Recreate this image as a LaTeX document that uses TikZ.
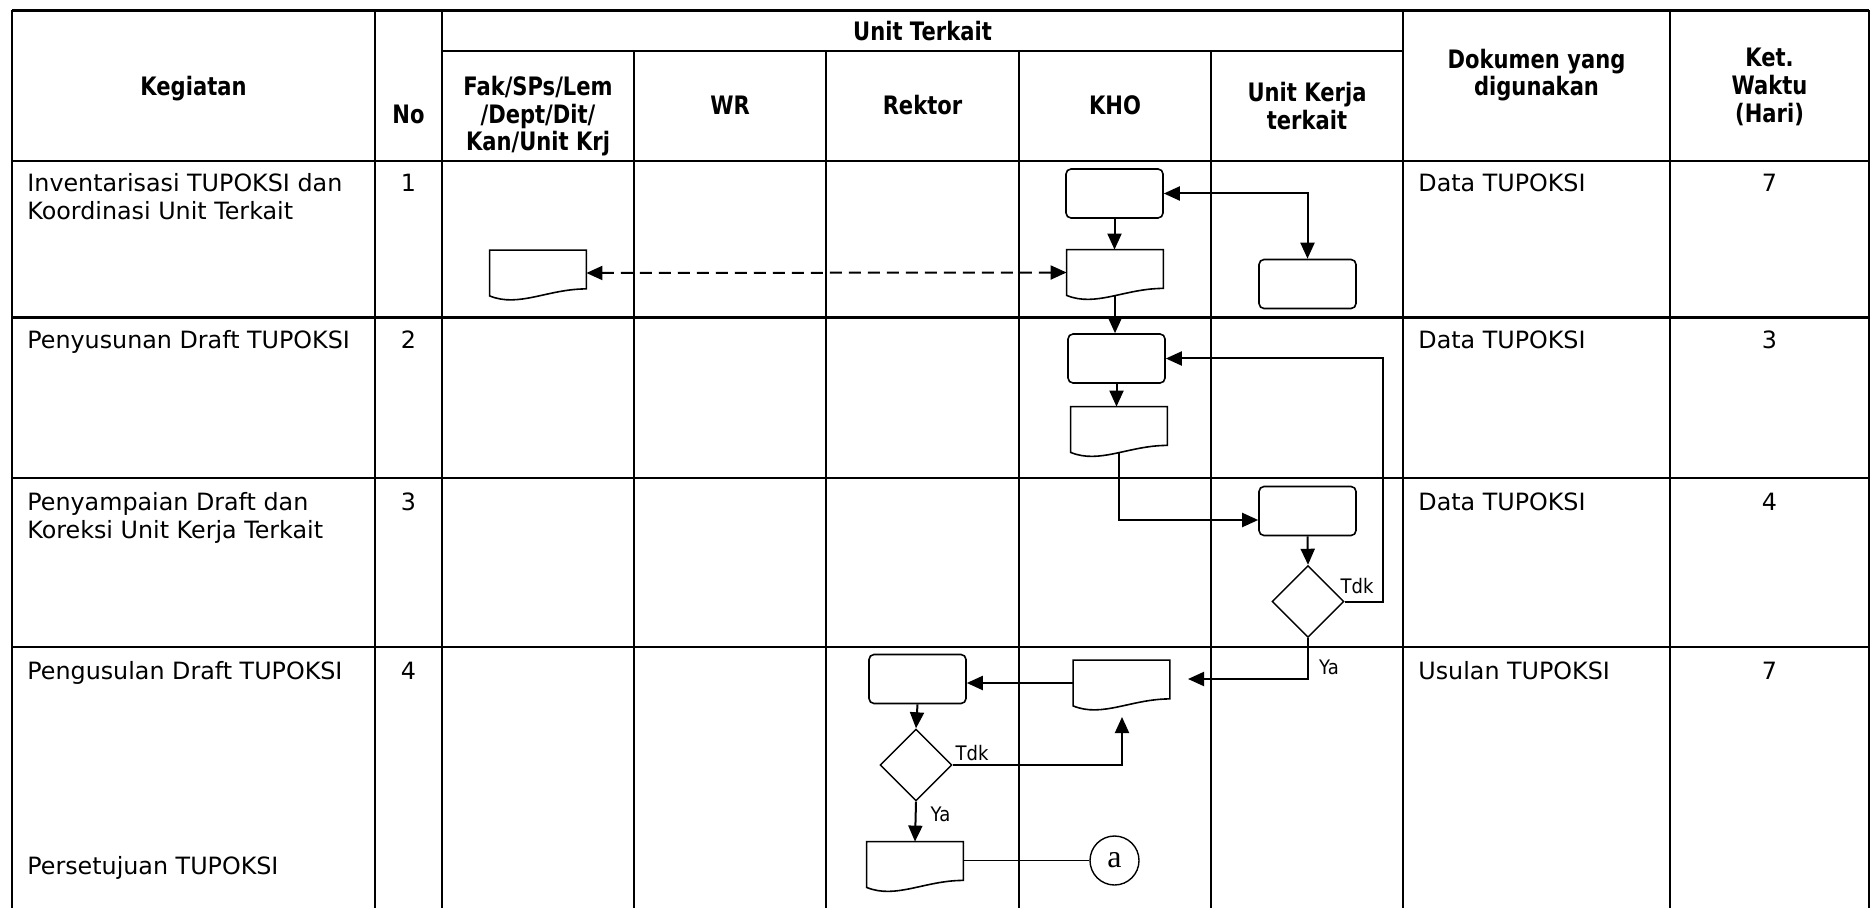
\documentclass[tikz,border=0pt]{standalone}
\usepackage{fontspec}
\setmainfont{DejaVu Sans}
\newfontfamily\serifa{Liberation Serif}
\usepackage{graphicx}
\usetikzlibrary{arrows.meta,shapes.geometric,calc}

\newcommand{\hs}[1]{\scalebox{0.83}[1]{#1}}
\newcommand{\ls}[1]{\scalebox{0.9}[1]{#1}}
\newcommand{\docoutline}[1]{%
  \draw[shp] ($(#1.south east)+(0,-7)$) -- (#1.north east) -- (#1.north west) -- (#1.south west)
    .. controls ($(#1.south west)!0.3!(#1.south east)+(0,12)$) and ($(#1.south west)!0.6!(#1.south east)+(0,-7)$) .. ($(#1.south east)+(0,-7)$) -- cycle;}

\tikzset{
  tabline/.style={line width=1.2pt},
  bodytext/.style={anchor=base west, inner sep=0pt, font=\fontsize{11.9}{14}\selectfont},
  numtext/.style={anchor=base, inner sep=0pt, font=\fontsize{11.9}{14}\selectfont},
  hdtext/.style={anchor=base, inner sep=0pt, font=\bfseries\fontsize{12.7}{15}\selectfont},
  proc/.style={draw, line width=0.8pt, rounded corners=2.5pt, minimum width=48.5pt, minimum height=24.5pt, inner sep=0pt},
  docnode/.style={draw=none, minimum width=48pt, minimum height=22.5pt, inner sep=0pt},
  decision/.style={draw, diamond, line width=0.7pt, minimum width=36pt, minimum height=36pt, inner sep=0pt},
  shp/.style={line width=0.8pt},
  conn/.style={line width=1pt, ->},
  thinline/.style={line width=0.6pt},
  lbl/.style={inner sep=0pt, font=\fontsize{10}{12}\selectfont},
}

\begin{document}
\begin{tikzpicture}[x=0.5pt,y=-0.5pt, >={Triangle[length=8pt,width=7pt]}]
\useasboundingbox (0,0) rectangle (1871,908);

% ---------- table grid ----------
\draw[tabline] (12,10.5) -- (1869,10.5);
\draw[tabline] (442,51) -- (1403,51);
\draw[tabline] (12,161) -- (1869,161);
\draw[tabline] (12,317.5) -- (1869,317.5);
\draw[tabline] (12,478) -- (1869,478);
\draw[tabline] (12,647) -- (1869,647);
\foreach \x in {12,375,442,1403,1670,1869} \draw[tabline] (\x,10.5) -- (\x,910);
\foreach \x in {634,826,1019,1211} \draw[tabline] (\x,51) -- (\x,910);

% ---------- header ----------
\node[hdtext] (hUT) at (922.5,41) {\hs{Unit Terkait}};
\node[hdtext] (hKeg) at (193.5,96) {\hs{Kegiatan}};
\node[hdtext] (hNo) at (408.5,124) {\hs{No}};
\node[hdtext] (hFa) at (538,96) {\hs{Fak/SPs/Lem}};
\node[hdtext] (hFb) at (538,124) {\hs{/Dept/Dit/}};
\node[hdtext] (hFc) at (538,151) {\hs{Kan/Unit Krj}};
\node[hdtext] (hWR) at (730,115) {\hs{WR}};
\node[hdtext] (hRek) at (922.5,115) {\hs{Rektor}};
\node[hdtext] (hKHO) at (1115,115) {\hs{KHO}};
\node[hdtext] (hUKa) at (1307,102) {\hs{Unit Kerja}};
\node[hdtext] (hUKb) at (1307,130) {\hs{terkait}};
\node[hdtext] (hDa) at (1536.5,69) {\hs{Dokumen yang}};
\node[hdtext] (hDb) at (1536.5,96) {\hs{digunakan}};
\node[hdtext] (hKa) at (1769.5,67) {\hs{Ket.}};
\node[hdtext] (hKb) at (1769.5,95) {\hs{Waktu}};
\node[hdtext] (hKc) at (1769.5,123) {\hs{(Hari)}};

% ---------- body texts ----------
\node[bodytext] (k1a) at (27,192) {Inventarisasi TUPOKSI dan};
\node[bodytext] (k1b) at (27,220) {Koordinasi Unit Terkait};
\node[bodytext] (k2) at (27,349) {Penyusunan Draft TUPOKSI};
\node[bodytext] (k3a) at (27,510) {Penyampaian Draft dan};
\node[bodytext] (k3b) at (27,538) {Koreksi Unit Kerja Terkait};
\node[bodytext] (k4) at (27,679) {Pengusulan Draft TUPOKSI};
\node[bodytext] (k5) at (27,874) {Persetujuan TUPOKSI};

\node[numtext] (n1) at (408.5,192) {1};
\node[numtext] (n2) at (408.5,349) {2};
\node[numtext] (n3) at (408.5,510) {3};
\node[numtext] (n4) at (408.5,679) {4};

\node[bodytext] (d1) at (1418,192) {Data TUPOKSI};
\node[bodytext] (d2) at (1418,349) {Data TUPOKSI};
\node[bodytext] (d3) at (1418,510) {Data TUPOKSI};
\node[bodytext] (d4) at (1418,679) {Usulan TUPOKSI};

\node[numtext] (w1) at (1769.5,192) {7};
\node[numtext] (w2) at (1769.5,349) {3};
\node[numtext] (w3) at (1769.5,510) {4};
\node[numtext] (w4) at (1769.5,679) {7};

% ---------- flow shapes ----------
\node[proc] (P1) at (1114.5,193.5) {};
\node[docnode] (D1) at (1115,272.5) {};
\node[proc] (U1) at (1307.5,284) {};
\node[docnode] (F1) at (538,273) {};
\node[proc] (P2) at (1116.5,358.5) {};
\node[docnode] (D2) at (1119,429.5) {};
\node[proc] (U2) at (1307.5,511) {};
\node[decision] (Dm1) at (1308,601.5) {};
\node[docnode] (D3) at (1121.5,683) {};
\node[proc] (R1) at (917.5,679) {};
\node[decision] (Dm2) at (916,765) {};
\node[docnode] (D4) at (915,864.5) {};
\node[circle, draw, line width=0.7pt, minimum size=24.5pt, inner sep=0pt,
      font=\serifa\fontsize{16}{16}\selectfont] (ca) at (1114.5,860.5) {a};

\docoutline{D1}
\docoutline{F1}
\docoutline{D2}
\docoutline{D3}
\docoutline{D4}

\coordinate (ret) at (1383,358.5);
\coordinate (ya1) at (1188,679);
\coordinate (t2) at (1122,717);

% ---------- connectors ----------
\draw[conn] (P1.south) -- (P1.south |- D1.north);
\draw[conn, <->] (P1.east) -| (U1.north);
\draw[line width=1pt, <->, dash pattern=on 6pt off 3.5pt] (F1.east) -- (D1.west);
\draw[conn] (D1.south) -- (D1.south |- P2.north);
\draw[conn] (P2.south) -- (P2.south |- D2.north);
\draw[conn] (D2.south) |- ($(U2.west)+(0,9)$);
\draw[conn] (U2.south) -- (Dm1.north);
\draw[conn] (Dm1.east) -| (ret) -- (P2.east);
\draw[conn] (Dm1.south) |- (ya1);
\draw[conn] (D3.west) -- (D3.west -| R1.east);
\draw[conn] (R1.south) -- (Dm2.north);
\draw[conn] (Dm2.east) -| (t2);
\draw[conn] (Dm2.south) -- (D4.north);
\draw[thinline] (D4.east |- ca.west) -- (ca.west);

% ---------- labels ----------
\node[lbl] (lT1) at (1357,586) {\ls{Tdk}};
\node[lbl] (lY1) at (1329,667) {\ls{Ya}};
\node[lbl] (lT2) at (972,753) {\ls{Tdk}};
\node[lbl] (lY2) at (940.5,814) {\ls{Ya}};
\end{tikzpicture}
\end{document}
